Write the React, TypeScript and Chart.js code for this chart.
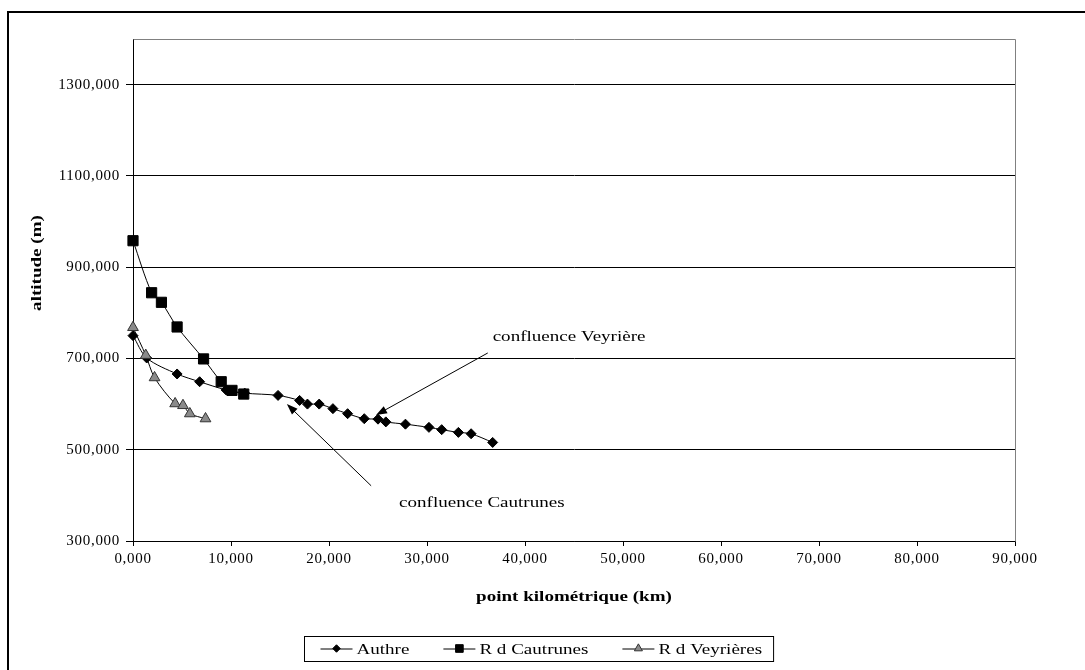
import React, { useEffect, useRef } from "react";
import { Chart, registerables } from "chart.js";
import { drawPoint } from "chart.js/helpers";

Chart.register(...registerables);

// ---- data ----
const authreKm = [0, 1.4, 4.5, 6.8, 9.5, 11.4, 14.8, 17.0, 17.8, 19.0, 20.4, 21.9, 23.6, 25.0, 25.8, 27.8, 30.2, 31.5, 33.2, 34.5, 36.7];
const authreAlt = [750, 701, 666, 649, 631, 624, 619, 608, 600, 600, 590, 579, 568, 567, 561, 556, 549, 544, 538, 535, 516];

const cautrunesKm = [0, 1.9, 2.9, 4.5, 7.2, 9.0, 10.1, 11.3];
const cautrunesAlt = [958, 844, 823, 769, 699, 649, 630, 622];

const veyrieresKm = [0, 1.3, 2.2, 4.3, 5.1, 5.8, 7.4];
const veyrieresAlt = [768, 707, 658, 601, 597, 579, 568];

const seriesNames = ["Authre", "R d Cautrunes", "R d Veyrières"];

const xTickValues = [0, 10, 20, 30, 40, 50, 60, 70, 80, 90];
const yTickValues = [300, 500, 700, 900, 1100, 1300];
const xMin = 0;
const xMax = 90;
const yMin = 300;
const yMax = 1400;

const xTitle = "point kilométrique (km)";
const yTitle = "altitude (m)";

// annotation texts and arrows, in data units (km, m)
const annotationLabels = ["confluence Veyrière", "confluence Cautrunes"];
const annotationTextKm = [36.7, 27.15];
const annotationTextAlt = [739, 375];
const annotationTailKm = [36.2, 24.3];
const annotationTailAlt = [712, 421];
const annotationTipKm = [24.8, 15.7];
const annotationTipAlt = [576, 600];

const FONT = "'Liberation Serif', 'Times New Roman', Times, serif";
const STRETCH = 1.27;

const fmt = (v: number) => v.toFixed(3).replace(".", ",");
const zip = (xs: number[], ys: number[]) => xs.map((x, i) => ({ x, y: ys[i] }));

function stretchedText(
  ctx: CanvasRenderingContext2D,
  text: string,
  x: number,
  y: number,
  opts: { bold?: boolean; size?: number; align?: "left" | "center"; rotate?: number; baseline?: CanvasTextBaseline }
) {
  const size = opts.size ?? 15;
  ctx.save();
  ctx.font = `${opts.bold ? "bold " : ""}${size}px ${FONT}`;
  ctx.fillStyle = "#000";
  ctx.textBaseline = opts.baseline ?? "alphabetic";
  ctx.textAlign = "left";
  const w = ctx.measureText(text).width * STRETCH;
  ctx.translate(x, y);
  if (opts.rotate) ctx.rotate(opts.rotate);
  ctx.scale(STRETCH, 1);
  const dx = opts.align === "center" ? -w / 2 / STRETCH : 0;
  ctx.fillText(text, dx, 0);
  ctx.restore();
  return w;
}

const decorPlugin = {
  id: "decor",
  beforeDraw(chart: any) {
    const ctx: CanvasRenderingContext2D = chart.ctx;
    ctx.save();
    ctx.fillStyle = "#fff";
    ctx.fillRect(0, 0, chart.width, chart.height);
    ctx.strokeStyle = "#000";
    ctx.lineWidth = 2;
    ctx.beginPath();
    ctx.moveTo(8, chart.height + 2);
    ctx.lineTo(8, 12);
    ctx.lineTo(chart.width + 2, 12);
    ctx.stroke();
    ctx.restore();
    (ctx as any).letterSpacing = "0.7px";
  },
  beforeDatasetsDraw(chart: any) {
    const ctx: CanvasRenderingContext2D = chart.ctx;
    const a = chart.chartArea;
    ctx.save();
    ctx.strokeStyle = "#808080";
    ctx.lineWidth = 1;
    ctx.beginPath();
    ctx.moveTo(Math.round(a.left) + 0.5, Math.round(a.top) + 0.5);
    ctx.lineTo(Math.round(a.right) + 0.5, Math.round(a.top) + 0.5);
    ctx.lineTo(Math.round(a.right) + 0.5, Math.round(a.bottom) + 0.5);
    ctx.stroke();
    ctx.restore();
  },
  afterDraw(chart: any) {
    const ctx: CanvasRenderingContext2D = chart.ctx;
    (ctx as any).letterSpacing = "0px";
    const xs = chart.scales.x;
    const ys = chart.scales.y;
    const a = chart.chartArea;

    // annotations
    annotationLabels.forEach((label, i) => {
      const tx = xs.getPixelForValue(annotationTextKm[i]);
      const ty = ys.getPixelForValue(annotationTextAlt[i]);
      stretchedText(ctx, label, tx, ty, {});
      const x1 = xs.getPixelForValue(annotationTailKm[i]);
      const y1 = ys.getPixelForValue(annotationTailAlt[i]);
      const x2 = xs.getPixelForValue(annotationTipKm[i]);
      const y2 = ys.getPixelForValue(annotationTipAlt[i]);
      const ang = Math.atan2(y2 - y1, x2 - x1);
      const len = 11;
      const hw = 4;
      ctx.save();
      ctx.strokeStyle = "#000";
      ctx.fillStyle = "#000";
      ctx.lineWidth = 1;
      ctx.beginPath();
      ctx.moveTo(x1, y1);
      ctx.lineTo(x2 - Math.cos(ang) * len * 0.8, y2 - Math.sin(ang) * len * 0.8);
      ctx.stroke();
      const bx = x2 - Math.cos(ang) * len;
      const by = y2 - Math.sin(ang) * len;
      ctx.beginPath();
      ctx.moveTo(x2, y2);
      ctx.lineTo(bx + Math.sin(ang) * hw, by - Math.cos(ang) * hw);
      ctx.lineTo(bx - Math.sin(ang) * hw, by + Math.cos(ang) * hw);
      ctx.closePath();
      ctx.fill();
      ctx.restore();
    });

    // axis titles
    stretchedText(ctx, xTitle, (a.left + a.right) / 2, 601, { bold: true, align: "center" });
    stretchedText(ctx, yTitle, 41, 263, { bold: true, align: "center", rotate: -Math.PI / 2 });

    // legend
    const boxLeft = 304;
    const boxTop = 636;
    const boxH = 25;
    const midY = boxTop + boxH / 2;
    let x = boxLeft + 16.5;
    chart.data.datasets.forEach((ds: any, i: number) => {
      ctx.save();
      ctx.strokeStyle = ds.borderColor;
      ctx.lineWidth = 1;
      ctx.beginPath();
      ctx.moveTo(x, midY + 0.5);
      ctx.lineTo(x + 32, midY + 0.5);
      ctx.stroke();
      ctx.fillStyle = ds.pointBackgroundColor;
      ctx.strokeStyle = ds.pointBorderColor;
      drawPoint(ctx, { pointStyle: ds.pointStyle, radius: ds.pointRadius * 0.75, rotation: 0, borderWidth: 1 } as any, x + 16, midY);
      ctx.restore();
      const w = stretchedText(ctx, ds.label, x + 36, midY + 5.5, {});
      x = x + 36 + w + (i < chart.data.datasets.length - 1 ? 34 : 11);
    });
    ctx.save();
    ctx.strokeStyle = "#000";
    ctx.lineWidth = 1;
    ctx.strokeRect(boxLeft + 0.5, boxTop + 0.5, x - boxLeft, boxH);
    ctx.restore();
  },
};

export default function App() {
  const ref = useRef<HTMLCanvasElement>(null);

  useEffect(() => {
    if (!ref.current) return;
    const common = { borderColor: "#000", borderWidth: 1, tension: 0.3, pointBorderWidth: 1, clip: false };
    const chart = new Chart(ref.current, {
      type: "line",
      data: {
        datasets: [
          {
            ...common,
            label: seriesNames[0],
            data: zip(authreKm, authreAlt),
            pointStyle: "rectRot",
            pointRadius: 5,
            pointBackgroundColor: "#000",
            pointBorderColor: "#000",
            order: 2,
          },
          {
            ...common,
            label: seriesNames[1],
            data: zip(cautrunesKm, cautrunesAlt),
            pointStyle: "rect",
            pointRadius: 7.2,
            pointBackgroundColor: "#000",
            pointBorderColor: "#000",
            order: 0,
          },
          {
            ...common,
            label: seriesNames[2],
            data: zip(veyrieresKm, veyrieresAlt),
            pointStyle: "triangle",
            pointRadius: 6.2,
            pointBackgroundColor: "#8a8a8a",
            pointBorderColor: "#333",
            order: 1,
          },
        ] as any,
      },
      options: {
        responsive: false,
        animation: false,
        events: [],
        layout: { padding: { left: 0, top: 39, right: 70, bottom: 99 } },
        plugins: { legend: { display: false }, tooltip: { enabled: false }, title: { display: false } },
        scales: {
          x: {
            type: "linear",
            min: xMin,
            max: xMax,
            afterBuildTicks: (s: any) => {
              s.ticks = xTickValues.map((v) => ({ value: v }));
            },
            afterFit: (s: any) => {
              s.height = 30;
            },
            grid: { drawOnChartArea: false, drawTicks: true, tickLength: 5, color: "#000" },
            border: { color: "#000", width: 1 },
            ticks: {
              color: "#000",
              font: { family: FONT, size: 15 },
              padding: 4,
              maxRotation: 0,
              autoSkip: false,
              callback: (v: any) => fmt(Number(v)),
            },
          },
          y: {
            type: "linear",
            min: yMin,
            max: yMax,
            afterBuildTicks: (s: any) => {
              s.ticks = yTickValues.map((v) => ({ value: v }));
            },
            afterFit: (s: any) => {
              s.width = 133;
            },
            grid: { color: "#000", tickLength: 7 },
            border: { color: "#000", width: 1 },
            ticks: {
              color: "#000",
              font: { family: FONT, size: 15 },
              padding: 6,
              autoSkip: false,
              callback: (v: any) => fmt(Number(v)),
            },
          },
        },
      } as any,
      plugins: [decorPlugin],
    });
    return () => chart.destroy();
  }, []);

  return (
    <canvas
      ref={ref}
      width={1085}
      height={670}
      style={{ position: "fixed", left: 0, top: 0, width: 1085, height: 670, display: "block" }}
    />
  );
}
